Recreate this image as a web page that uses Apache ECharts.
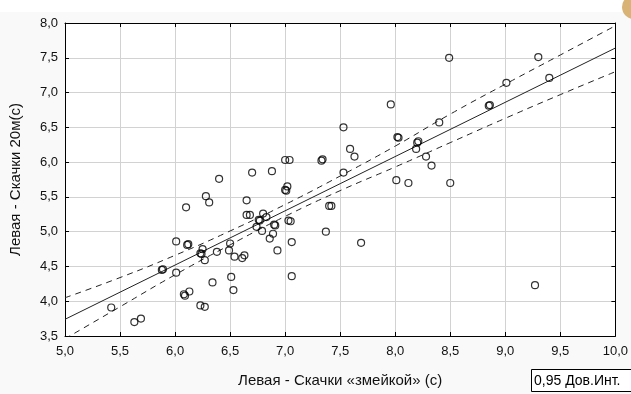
<!DOCTYPE html>
<html><head><meta charset="utf-8">
<script src="https://cdn.jsdelivr.net/npm/echarts@6/dist/echarts.min.js"></script>
<style>html,body{margin:0;padding:0;background:#f9f9f9}#c{width:631px;height:394px}</style>
</head><body><div id="c"></div>
<script>
var xName = 'Левая - Скачки «змейкой» (с)';
var yName = 'Левая - Скачки 20м(с)';
var legendName = '0,95 Дов.Инт.';
var pointsX = [8.49,9.30,9.01,9.40,8.85,8.86,7.96,7.53,8.40,8.02,8.03,8.21,8.20,8.19,8.28,8.33,7.59,7.63,7.34,7.33,7.00,7.04,6.88,6.70,7.53,8.01,8.12,8.50,9.27,6.40,6.10,6.28,6.31,6.65,6.65,6.68,6.76,6.77,6.74,6.01,6.11,6.12,6.25,6.23,6.24,6.27,6.38,6.50,6.49,6.54,6.61,6.63,5.88,5.89,6.01,6.08,6.09,6.13,6.34,6.51,6.53,6.23,6.27,5.42,5.63,5.69,7.02,7.01,7.00,6.80,6.83,6.79,6.90,6.91,6.89,6.86,6.93,7.03,7.05,7.06,7.06,7.40,7.42,7.37,7.69];
var pointsY = [7.50,7.51,7.14,7.21,6.81,6.82,6.83,6.50,6.57,6.36,6.35,6.30,6.28,6.19,6.08,5.95,6.19,6.08,6.04,6.02,6.03,6.03,5.87,5.85,5.85,5.74,5.70,5.70,4.23,5.76,5.35,5.51,5.42,5.45,5.24,5.24,5.17,5.16,5.07,4.86,4.81,4.82,4.75,4.69,4.68,4.59,4.71,4.83,4.73,4.64,4.62,4.66,4.45,4.46,4.41,4.10,4.08,4.14,4.27,4.35,4.16,3.94,3.92,3.91,3.70,3.75,5.65,5.59,5.60,5.26,5.21,5.01,5.10,5.09,4.97,4.90,4.73,5.16,5.15,4.85,4.36,5.37,5.37,5.00,4.84];
var fitX = [5, 10];
var fitY = [3.74, 7.64];
var bandX = [5, 5.5, 6, 6.5, 7, 7.5, 8, 8.5, 9, 9.5, 10];
var upperY = [4.05, 4.34, 4.66, 5.01, 5.39, 5.80, 6.23, 6.69, 7.12, 7.54, 7.96];
var lowerY = [3.46, 3.92, 4.38, 4.81, 5.22, 5.59, 5.93, 6.28, 6.63, 6.97, 7.30];

function zip(a, b) { return a.map(function (v, i) { return [v, b[i]]; }); }
function fmt(v) { return v.toFixed(1).replace('.', ','); }

var chart = echarts.init(document.getElementById('c'));
var FONT = 'Liberation Sans, Arial, sans-serif';
var baseX = {
  type: 'value', min: 5, max: 10, interval: 0.5,
  axisLine: { show: true, onZero: false, lineStyle: { color: '#000', width: 1 } },
  axisTick: { show: true, inside: true, length: 4, lineStyle: { color: '#000' } },
  splitLine: { show: true, lineStyle: { color: '#d2d2d2', width: 1 } }
};
var baseY = {
  type: 'value', min: 3.5, max: 8, interval: 0.5,
  axisLine: { show: true, onZero: false, lineStyle: { color: '#000', width: 1 } },
  axisTick: { show: true, inside: true, length: 4, lineStyle: { color: '#000' } },
  splitLine: { show: true, lineStyle: { color: '#d2d2d2', width: 1 } }
};
chart.setOption({
  animation: false,
  backgroundColor: '#f9f9f9',
  grid: { left: 63, right: 14, top: 23, bottom: 58, show: true, backgroundColor: '#fff', borderWidth: 0 },
  graphic: [
    { type: 'rect', shape: { x: 0, y: 0, width: 631, height: 12 }, style: { fill: '#fff' }, z: -10 },
    { type: 'circle', shape: { cx: 634, cy: 7, r: 12 }, style: { fill: '#d9b375' } },
    { type: 'rect', shape: { x: 531.5, y: 369.5, width: 110, height: 22 }, style: { fill: '#fff', stroke: '#000', lineWidth: 1 } },
    { type: 'text', x: 534, y: 381, style: { text: legendName, font: '14px Liberation Sans, Arial, sans-serif', fill: '#000', textVerticalAlign: 'middle', verticalAlign: 'middle' } }
  ],
  xAxis: [
    Object.assign({}, baseX, {
      position: 'bottom',
      name: xName, nameLocation: 'middle', nameGap: 37,
      nameTextStyle: { fontFamily: FONT, fontSize: 15, color: '#111' },
      axisLabel: { formatter: fmt, fontFamily: FONT, fontSize: 13, color: '#111', margin: 9 }
    }),
    Object.assign({}, baseX, { position: 'top', axisLabel: { show: false }, splitLine: { show: false } })
  ],
  yAxis: [
    Object.assign({}, baseY, {
      position: 'left',
      name: yName, nameLocation: 'middle', nameGap: 42,
      nameTextStyle: { fontFamily: FONT, fontSize: 15, color: '#111' },
      axisLabel: { formatter: fmt, fontFamily: FONT, fontSize: 13, color: '#111', margin: 7 }
    }),
    Object.assign({}, baseY, { position: 'right', axisLabel: { show: false }, splitLine: { show: false } })
  ],
  series: [
    { type: 'line', data: zip(fitX, fitY), symbol: 'none', lineStyle: { color: '#222', width: 1 }, z: 3, silent: true },
    { type: 'line', name: legendName, data: zip(bandX, upperY), smooth: true, symbol: 'none', lineStyle: { color: '#222', width: 1, type: [6, 5] }, z: 3 },
    { type: 'line', name: legendName, data: zip(bandX, lowerY), smooth: true, symbol: 'none', lineStyle: { color: '#222', width: 1, type: [6, 5] }, z: 3 },
    { type: 'scatter', data: zip(pointsX, pointsY), symbol: 'circle', symbolSize: 7,
      itemStyle: { color: 'rgba(0,0,0,0)', borderColor: '#000', borderWidth: 1.2 }, z: 4 }
  ]
});
</script></body></html>
